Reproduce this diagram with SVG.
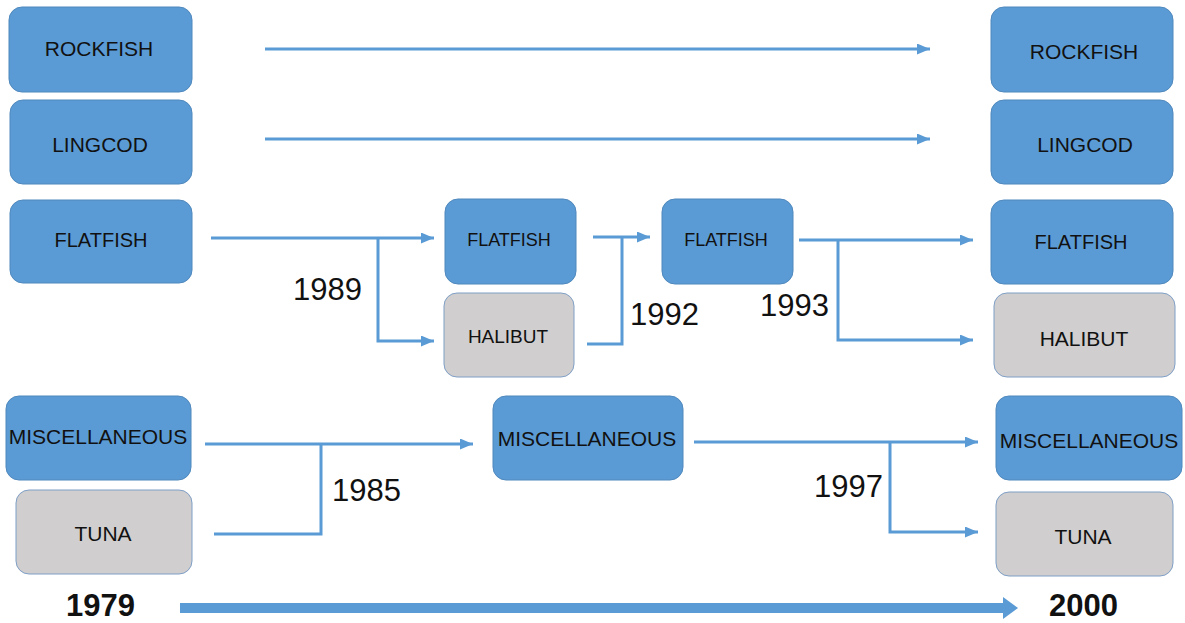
<svg xmlns="http://www.w3.org/2000/svg" width="1185" height="623" viewBox="0 0 1185 623">
<style>
.b{fill:#5B9BD5;stroke:#4F88BD;stroke-width:1}
.g{fill:#D0CECE;stroke:#7F9FC6;stroke-width:1}
.t{font-family:"Liberation Sans",Arial,sans-serif;fill:#111;text-anchor:middle;dominant-baseline:central}
.y{font-family:"Liberation Sans",Arial,sans-serif;fill:#111;font-size:31px}
.yb{font-family:"Liberation Sans",Arial,sans-serif;fill:#111;font-size:31px;font-weight:bold}
.c{fill:none;stroke:#5B9BD5;stroke-width:3}
</style>
<defs>
<marker id="ah" markerUnits="userSpaceOnUse" markerWidth="14" markerHeight="13" refX="13" refY="5.5" orient="auto">
<path d="M0,0 L13,5.5 L0,11 z" fill="#5B9BD5"/>
</marker>
</defs>
<rect width="1185" height="623" fill="#fff"/>
<g id="connectors">
<path class="c" d="M265,49 H930" marker-end="url(#ah)"/>
<path class="c" d="M265,139 H930" marker-end="url(#ah)"/>
<path class="c" d="M211,238 H434" marker-end="url(#ah)"/>
<path class="c" d="M378,238 V341 H434" marker-end="url(#ah)"/>
<path class="c" d="M587,344 H622 V237"/>
<path class="c" d="M593,237 H650" marker-end="url(#ah)"/>
<path class="c" d="M799,240 H973" marker-end="url(#ah)"/>
<path class="c" d="M838,240 V340 H973" marker-end="url(#ah)"/>
<path class="c" d="M205,444 H473" marker-end="url(#ah)"/>
<path class="c" d="M214,534 H321 V444"/>
<path class="c" d="M694,442 H978" marker-end="url(#ah)"/>
<path class="c" d="M890,442 V532 H978" marker-end="url(#ah)"/>
<g id="timeline">
<path d="M180,608 H1004" stroke="#5B9BD5" stroke-width="10" fill="none"/>
<polygon points="1003,597 1018,608 1003,619" fill="#5B9BD5"/>
</g>
</g>
<g id="rockfish-1979"><rect class="b" x="9" y="7" width="183" height="85" rx="13"/><text class="t" x="99" y="48" font-size="21">ROCKFISH</text></g>
<g id="lingcod-1979"><rect class="b" x="10" y="100" width="182" height="84" rx="13"/><text class="t" x="100" y="144" font-size="21">LINGCOD</text></g>
<g id="flatfish-1979"><rect class="b" x="10" y="200" width="182" height="83" rx="13"/><text class="t" x="101" y="240" font-size="20">FLATFISH</text></g>
<g id="misc-1979"><rect class="b" x="6" y="396" width="185" height="84" rx="13"/><text class="t" x="98" y="436" font-size="21">MISCELLANEOUS</text></g>
<g id="tuna-1979"><rect class="g" x="16" y="490" width="176" height="84" rx="13"/><text class="t" x="103" y="533" font-size="21">TUNA</text></g>
<g id="flatfish-1989"><rect class="b" x="445" y="199" width="131" height="85" rx="13"/><text class="t" x="509" y="240" font-size="18">FLATFISH</text></g>
<g id="halibut-1989"><rect class="g" x="444" y="293" width="130" height="84" rx="13"/><text class="t" x="508" y="336" font-size="19">HALIBUT</text></g>
<g id="flatfish-1992"><rect class="b" x="662" y="199" width="131" height="85" rx="13"/><text class="t" x="726" y="240" font-size="18">FLATFISH</text></g>
<g id="misc-1985"><rect class="b" x="493" y="396" width="190" height="84" rx="13"/><text class="t" x="587" y="438" font-size="21">MISCELLANEOUS</text></g>
<g id="rockfish-2000"><rect class="b" x="991" y="7" width="182" height="85" rx="13"/><text class="t" x="1084" y="51" font-size="21">ROCKFISH</text></g>
<g id="lingcod-2000"><rect class="b" x="991" y="100" width="182" height="84" rx="13"/><text class="t" x="1085" y="144" font-size="21">LINGCOD</text></g>
<g id="flatfish-2000"><rect class="b" x="991" y="200" width="182" height="84" rx="13"/><text class="t" x="1081" y="242" font-size="20">FLATFISH</text></g>
<g id="halibut-2000"><rect class="g" x="994" y="293" width="181" height="84" rx="13"/><text class="t" x="1084" y="338" font-size="21">HALIBUT</text></g>
<g id="misc-2000"><rect class="b" x="996" y="396" width="186" height="84" rx="13"/><text class="t" x="1089" y="440" font-size="21">MISCELLANEOUS</text></g>
<g id="tuna-2000"><rect class="g" x="996" y="492" width="177" height="84" rx="13"/><text class="t" x="1083" y="536" font-size="21">TUNA</text></g>
<g id="labels">
<text class="y" x="293" y="300">1989</text>
<text class="y" x="630" y="325">1992</text>
<text class="y" x="760" y="316">1993</text>
<text class="y" x="332" y="501">1985</text>
<text class="y" x="814" y="497">1997</text>
<text class="yb" x="66" y="616">1979</text>
<text class="yb" x="1049" y="616">2000</text>
</g>
</svg>
